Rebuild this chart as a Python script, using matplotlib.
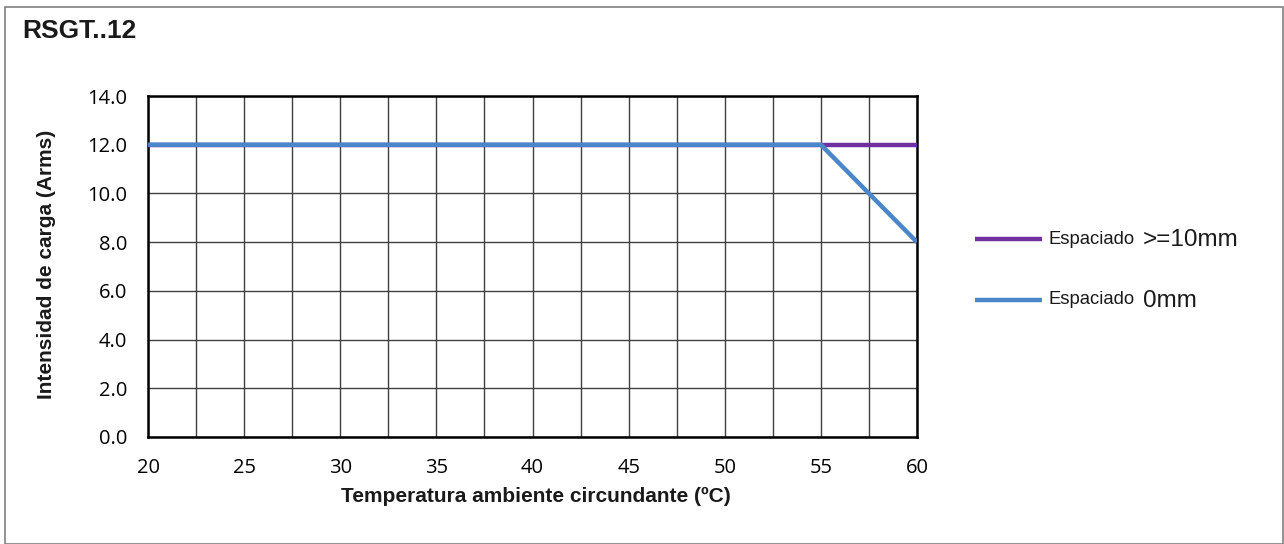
import matplotlib.pyplot as plt
from matplotlib.lines import Line2D
from matplotlib.patches import Rectangle
import numpy as np

# data
temp_10mm = [20, 55, 60]
amps_10mm = [12.0, 12.0, 12.0]
temp_0mm = [20, 55, 60]
amps_0mm = [12.0, 12.0, 8.0]
series_names = ["Espaciado", "Espaciado"]
series_suffix = [">=10mm", "0mm"]
colors = ["#7030A0", "#4A86C8"]

W, H = 1284, 544
fig = plt.figure(figsize=(W/100, H/100), dpi=100)

# outer frame
fig.add_artist(Rectangle((5/W, 0), (W-6)/W, (H-7)/H, transform=fig.transFigure,
                         fill=False, edgecolor='#808080', linewidth=1.2))

ax = fig.add_axes([148/W, 1-437/H, (917-148)/W, (437-96)/H])

ax.plot(temp_10mm, amps_10mm, color=colors[0], linewidth=3.2, solid_capstyle='butt', zorder=3)
ax.plot(temp_0mm, amps_0mm, color=colors[1], linewidth=3.2, solid_capstyle='butt', zorder=4)

ax.set_xlim(20, 60)
ax.set_ylim(0, 14)
ax.set_xticks(np.arange(20, 61, 5))
ax.set_xticks(np.arange(20, 61, 2.5), minor=True)
ax.set_yticks(np.arange(0, 15, 2))
ax.set_yticklabels(['%.1f' % v for v in np.arange(0, 15, 2)])
ax.grid(True, which='both', color='#404040', linewidth=1.0, zorder=1)
ax.tick_params(which='both', length=0)
ax.tick_params(axis='x', pad=15)
ax.tick_params(axis='y', pad=15)
for lab in ax.get_xticklabels() + ax.get_yticklabels():
    lab.set_fontfamily('Open Sans')
    lab.set_fontsize(14.5)
    lab.set_color('#000000')
for s in ax.spines.values():
    s.set_color('black')
    s.set_linewidth(1.8)

fig.text(22/W, 1-31/H, "RSGT..12", fontsize=19, fontweight='bold',
         family='Liberation Sans', va='center', ha='left', color='#1a1a1a')
fig.text(536/W, 1-496/H, "Temperatura ambiente circundante (ºC)", fontsize=15,
         fontweight='bold', family='Liberation Sans', ha='center', va='center', color='#1a1a1a')
fig.text(47/W, 1-264/H, "Intensidad de carga (Arms)", fontsize=15, rotation=90,
         fontweight='bold', family='Liberation Sans', ha='center', va='center', color='#1a1a1a')

# legend
for i, ypx in enumerate([239, 300]):
    fig.add_artist(Line2D([975/W, 1042/W], [1-ypx/H, 1-ypx/H], transform=fig.transFigure,
                          color=colors[i], linewidth=3.2, solid_capstyle='butt'))
    fig.text(1048/W, 1-ypx/H, series_names[i], fontsize=13.3, family='Liberation Sans',
             ha='left', va='center', color='#1a1a1a')
    fig.text(1143/W, 1-(ypx+1)/H, series_suffix[i], fontsize=17.5, family='Liberation Sans',
             ha='left', va='center', color='#1a1a1a')

fig.savefig("out.png", dpi=100)
